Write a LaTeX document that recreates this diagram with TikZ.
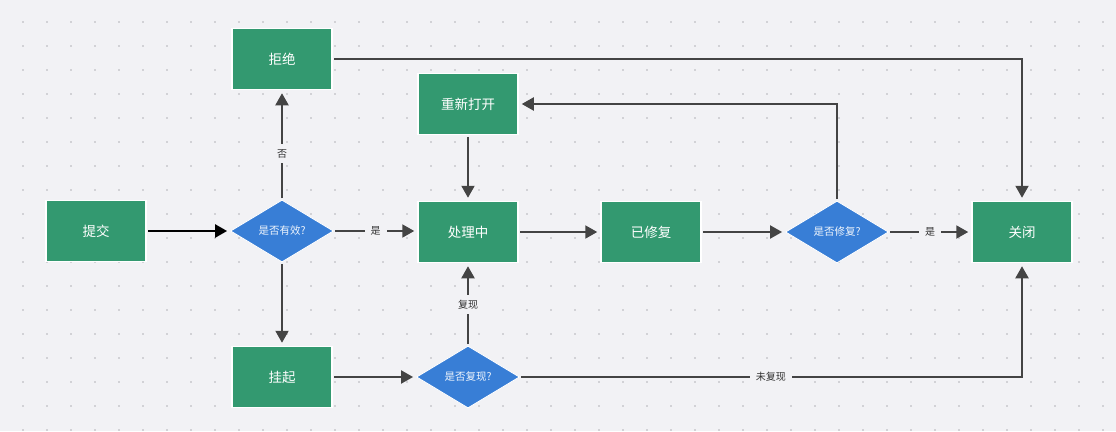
\documentclass[tikz,border=0pt]{standalone}
\usepackage{fontspec}
\newfontfamily\cjk{Noto Sans CJK SC}
\usetikzlibrary{shapes.geometric,arrows.meta}
\definecolor{bgc}{HTML}{F2F2F5}
\definecolor{dotc}{HTML}{D2D2D6}
\definecolor{boxg}{HTML}{339970}
\definecolor{diab}{HTML}{387ED6}
\definecolor{linec}{HTML}{444444}
\definecolor{labc}{HTML}{333333}
\begin{document}
\begin{tikzpicture}[x=1pt,y=-1pt,
  stbox/.style={rectangle,fill=boxg,draw=white,line width=1.5pt,minimum width=100pt,minimum height=61pt,inner sep=0pt,text=white,font=\cjk\fontsize{13.5}{15}\selectfont},
  decide/.style={diamond,fill=diab,draw=white,line width=0.8pt,minimum width=103pt,minimum height=62pt,inner sep=0pt,text=white!92!diab,font=\cjk\fontsize{10.5}{12}\selectfont},
  conn/.style={draw=linec,line width=2pt,-{Triangle[length=12pt,width=13pt]},shorten >=3pt,shorten <=1.5pt},
  lab/.style={fill=bgc,text=labc,font=\cjk\fontsize{10}{12}\selectfont,inner xsep=6pt,inner ysep=5pt}]
\useasboundingbox (0,0) rectangle (1116,431);
\fill[bgc] (0,0) rectangle (1116,431);
\foreach \i in {0,...,45}{
  \foreach \j in {0,...,17}{
    \fill[dotc] ({23+24*\i-1},{22+24*\j-1}) rectangle ({23+24*\i+1},{22+24*\j+1});
  }
}
\node[stbox] (submit) at (96,231) {提交};
\node[decide] (valid) at (282,231) {是否有效?};
\node[stbox] (reject) at (282,59) {拒绝};
\node[stbox] (hang) at (282,377) {挂起};
\node[stbox] (reopen) at (468,104) {重新打开};
\node[stbox] (proc) at (468,232) {处理中};
\node[decide] (repro) at (468,377) {是否复现?};
\node[stbox] (fixed) at (651,232) {已修复};
\node[decide] (isfixed) at (837,232) {是否修复?};
\node[stbox] (close) at (1022,232) {关闭};

\draw[conn,draw=black,line width=2.4pt] (submit) -- (valid);
\draw[conn] (valid) -- node[lab,pos=0.42] {否} (reject);
\draw[conn] (valid) -- node[lab] {是} (proc.west |- valid);
\draw[conn] (valid) -- (hang);
\draw[conn] (reject.east) -| (close.north);
\draw[conn] (reopen) -- (proc);
\draw[conn] (proc) -- (fixed);
\draw[conn] (fixed) -- (isfixed);
\draw[conn] (isfixed) -- node[lab] {是} (close);
\draw[conn] (isfixed.north) |- (reopen.east);
\draw[conn] (hang) -- (repro);
\draw[conn] (repro) -- node[lab] {复现} (proc);
\draw[conn] (repro.east) -| node[lab,pos=0.25] {未复现} (close.south);
\end{tikzpicture}
\end{document}
